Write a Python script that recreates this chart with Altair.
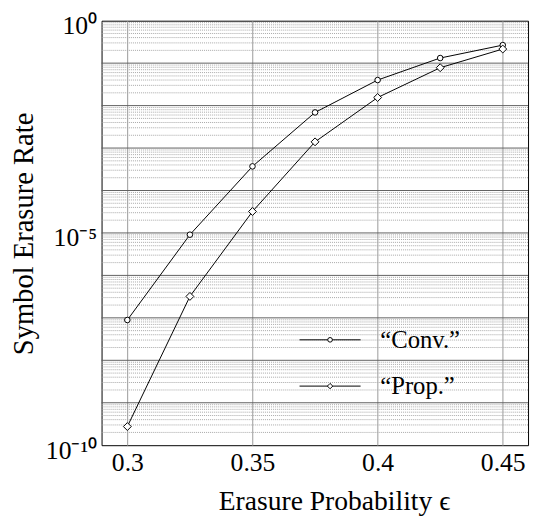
import altair as alt
import pandas as pd

# ---- data ----
eps = [0.3, 0.325, 0.35, 0.375, 0.4, 0.425, 0.45]
conv = [8.9e-8, 9.1e-6, 3.7e-4, 6.9e-3, 0.040, 0.132, 0.266]
prop = [2.75e-10, 3.2e-7, 3.2e-5, 1.4e-3, 0.0155, 0.078, 0.215]
series_names = ["\u201cConv.\u201d", "\u201cProp.\u201d"]

x_ticks = [0.3, 0.35, 0.4, 0.45]
y_labels = [1.0, 1e-5, 1e-10]
decades = [10.0 ** d for d in range(-9, 0)]
minor = [k * 10.0 ** d for d in range(-10, 0) for k in range(2, 10)]

FONT = "Liberation Serif"

df = pd.DataFrame(
    {
        "eps": eps * 2,
        "rate": conv + prop,
        "series": [series_names[0]] * len(eps) + [series_names[1]] * len(eps),
    }
)

xscale = alt.Scale(domain=[0.2897, 0.4601], nice=False, zero=False)
yscale = alt.Scale(type="log", domain=[1e-10, 1.0], nice=False)

minor_layer = (
    alt.Chart(pd.DataFrame({"v": minor}))
    .mark_rule(color="#a8a8a8", strokeWidth=1, strokeDash=[1, 1])
    .encode(y=alt.Y("v:Q", scale=yscale))
)
major_layer = (
    alt.Chart(pd.DataFrame({"v": decades}))
    .mark_rule(color="#606060", strokeWidth=1)
    .encode(y=alt.Y("v:Q", scale=yscale))
)

base = alt.Chart(df).encode(
    x=alt.X(
        "eps:Q",
        scale=xscale,
        axis=alt.Axis(
            values=x_ticks,
            format=".2~f",
            grid=True,
            gridColor="#999999",
            gridWidth=1,
            domain=False,
            ticks=False,
            labelFont=FONT,
            labelFontSize=26,
            labelColor="black",
            labelPadding=5,
            title="Erasure Probability \u03f5",
            titleFont=FONT,
            titleFontSize=28,
            titleFontWeight="normal",
            titleColor="black",
            titleX=236,
            titleY=57,
            titleBaseline="middle",
        ),
    ),
    y=alt.Y(
        "rate:Q",
        scale=yscale,
        axis=alt.Axis(
            values=y_labels,
            labelExpr="datum.value >= 0.5 ? '10\u2070' : (datum.value >= 1e-6 ? '10\u207b\u2075' : '10\u207b\u00b9\u2070')",
            grid=False,
            domain=False,
            ticks=False,
            labelFont=FONT,
            labelFontSize=26,
            labelColor="black",
            labelPadding=5,
            labelOffset=5,
            labelBaseline="middle",
            title="Symbol Erasure Rate",
            titleFont=FONT,
            titleFontSize=29,
            titleFontWeight="normal",
            titleColor="black",
            titleX=-79,
            titleY=216,
            titleBaseline="middle",
        ),
    ),
)

lines = base.mark_line(color="black", strokeWidth=1).encode(detail="series:N")

points = base.mark_point(fill="white", stroke="black", strokeWidth=1, opacity=1).encode(
    shape=alt.Shape(
        "series:N",
        scale=alt.Scale(domain=series_names, range=["circle", "diamond"]),
        legend=None,
    ),
    size=alt.Size(
        "series:N",
        scale=alt.Scale(domain=series_names, range=[32, 64]),
        legend=None,
    ),
)

# ---- hand-drawn legend (decoration, placed in pixels inside the plot) ----
legend_rows = [
    (series_names[0], "circle", 22, 324),
    (series_names[1], "diamond", 30, 371),
]
legend_layers = []
for name, shp, sz, ypix in legend_rows:
    ld = pd.DataFrame({"label": [name]})
    lc = alt.Chart(ld)
    legend_layers.append(
        lc.mark_rule(color="black", strokeWidth=1).encode(
            x=alt.value(201), x2=alt.value(263), y=alt.value(ypix)
        )
    )
    legend_layers.append(
        lc.mark_point(
            shape=shp, size=sz, fill="white", stroke="black", strokeWidth=1, opacity=1
        ).encode(x=alt.value(232), y=alt.value(ypix))
    )
    legend_layers.append(
        lc.mark_text(
            align="left", baseline="middle", font=FONT, fontSize=25, color="black"
        ).encode(x=alt.value(283), y=alt.value(ypix), text="label:N")
    )

chart = (
    alt.layer(minor_layer, major_layer, lines, points, *legend_layers)
    .resolve_scale(shape="independent", size="independent")
    .properties(
        width=433,
        height=431,
        autosize=alt.AutoSizeParams(type="none"),
        padding={"left": 95, "top": 9, "right": 3, "bottom": 69},
        background="white",
    )
    .configure_view(stroke="black", strokeWidth=1)
)

chart.save("out.html", embed_options={"renderer": "svg", "actions": False})
